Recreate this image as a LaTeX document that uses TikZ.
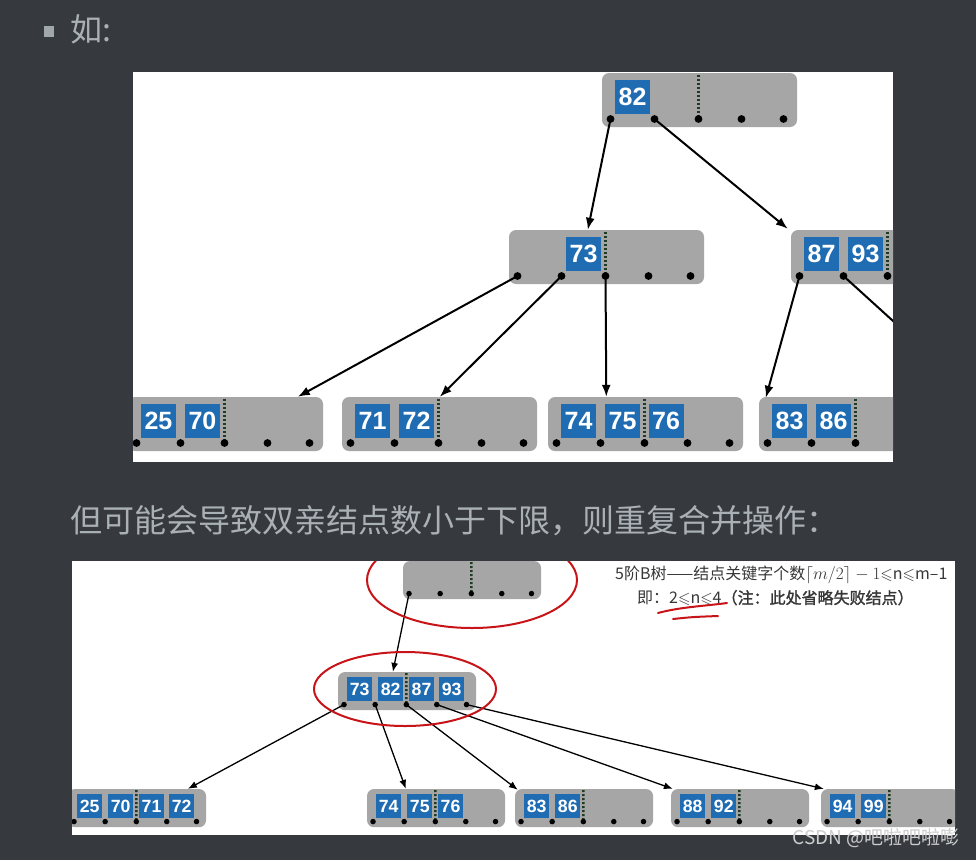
\documentclass[tikz,border=0pt]{standalone}
\usepackage{fontspec}
\usepackage{amssymb}
\setmainfont{Noto Sans CJK SC}[AutoFakeBold=1.6]
\newfontfamily\numfont{Liberation Sans}
\usetikzlibrary{arrows.meta,calc}
\definecolor{bg}{RGB}{54,57,62}
\definecolor{fg}{RGB}{170,177,182}
\definecolor{nodegray}{RGB}{166,166,166}
\definecolor{keyblue}{RGB}{31,108,178}
\definecolor{dotgreen}{RGB}{30,60,35}
\definecolor{pen}{RGB}{200,20,25}
\definecolor{txt}{RGB}{55,55,55}
\definecolor{wmc}{RGB}{205,205,205}
\tikzset{
  gbox/.style={fill=nodegray, rounded corners=7pt, minimum width=195pt, minimum height=54pt, inner sep=0pt},
  kbox/.style={fill=keyblue, text=white, minimum width=35pt, minimum height=34pt, inner sep=0pt,
               font=\numfont\bfseries\fontsize{25}{25}\selectfont},
  sepline/.style={draw=dotgreen, line width=2.4pt, dash pattern=on 2pt off 2pt},
  arrbig/.style={-{Latex[length=12pt,width=9pt]}, line width=2pt},
  arrsmall/.style={-{Latex[length=9pt,width=7pt]}, line width=1.3pt},
  redpen/.style={draw=pen, line width=2pt},
}
\newcommand{\BTnode}[5]{%
  \begin{scope}[shift={(#2,#3)},scale=#4,transform shape]
    \node[gbox] (#1) at (97.5,27) {};
    \coordinate (#1-d1) at (8.5,46);
    \coordinate (#1-d2) at (52.5,46);
    \coordinate (#1-d3) at (96.5,46);
    \coordinate (#1-d4) at (139.5,46);
    \coordinate (#1-d5) at (181.5,46);
    \draw[sepline] (96.5,1.5) -- (#1-d3);
    \def\keylist{#5}%
    \ifx\keylist\empty\else
      \foreach \sx/\kk in {#5} {\node[kbox] (#1-k\kk) at (\sx,24) {\kk};}
    \fi
    \foreach \i in {1,...,5} {\fill (#1-d\i) circle (3.9);}
  \end{scope}}
\begin{document}
\begin{tikzpicture}[x=1pt,y=-1pt]
\useasboundingbox (0,0) rectangle (976,860);
\fill[bg] (0,0) rectangle (976,860);

% heading texts
\fill[fg!95!black] (44,26) rectangle (54,37);
\node[anchor=west, inner sep=0pt, text=fg, font=\fontsize{32}{36}\selectfont] (h1) at (70,29) {如:};
\node[anchor=west, inner sep=0pt, text=fg, font=\fontsize{32}{36}\selectfont] (h2) at (70,521) {但可能会导致双亲结点数小于下限，则重复合并操作：};

% top panel
\fill[white] (133,72) rectangle (893,462);
\begin{scope}
  \clip (133,72) rectangle (893,462);
  \BTnode{R1}{602}{73}{1}{30.5/82}
  \BTnode{N73}{509}{230}{1}{74.5/73}
  \BTnode{N87}{791}{230}{1}{30.5/87,74.5/93}
  \BTnode{L1}{128}{397}{1}{30.5/25,74.5/70}
  \BTnode{L2}{342}{397}{1}{30.5/71,74.5/72}
  \BTnode{L3}{548}{397}{1}{30.5/74,74.5/75,118/76}
  \BTnode{L4}{759}{397}{1}{30.5/83,74.5/86}
  \coordinate (off87) at (925,350);
  \draw[arrbig] (R1-d1) -- ($(N73.north west)+(79,0)$);
  \draw[arrbig] (R1-d2) -- ($(N87.north west)+(-3,-1)$);
  \draw[arrbig] (N73-d1) -- ($(L1.north west)+(170,0)$);
  \draw[arrbig] (N73-d2) -- ($(L2.north west)+(98,0)$);
  \draw[arrbig] (N73-d3) -- ($(L3.north west)+(58.5,0)$);
  \draw[arrbig] (N87-d1) -- ($(L4.north west)+(7,1)$);
  \draw[line width=2pt] (N87-d2) -- (off87);
\end{scope}

% bottom panel
\fill[white] (72,561) rectangle (955,835);
\begin{scope}
  \clip (72,561) rectangle (955,835);
  \BTnode{T}{403}{561}{0.708}{}
  \BTnode{M}{338}{672}{0.708}{30.5/73,74.5/82,118/87,160.5/93}
  \BTnode{B1}{68}{789}{0.708}{30.5/25,74.5/70,118/71,160.5/72}
  \BTnode{B2}{367}{789}{0.708}{30.5/74,74.5/75,118/76}
  \BTnode{B3}{515}{789}{0.708}{30.5/83,74.5/86}
  \BTnode{B4}{671}{789}{0.708}{30.5/88,74.5/92}
  \BTnode{B5}{821}{789}{0.708}{30.5/94,74.5/99}
  \draw[arrsmall] (T-d1) -- ($(M.north west)+(55,0)$);
  \draw[arrsmall] (M-d1) -- ($(B1.north west)+(120,0)$);
  \draw[arrsmall] (M-d2) -- ($(B2.north west)+(39,0)$);
  \draw[arrsmall] (M-d3) -- ($(B3.north west)+(3,1)$);
  \draw[arrsmall] (M-d4) -- ($(B4.north west)+(2,0)$);
  \draw[arrsmall] (M-d5) -- ($(B5.north west)+(3,0)$);
  \draw[redpen] (472,580) ellipse [x radius=105, y radius=48];
  \draw[redpen] (405,689) ellipse [x radius=91, y radius=37];
  \node[anchor=west, inner sep=0pt, text=txt, font=\fontsize{16}{18}\selectfont] (f1) at (615,575)
    {5阶B树——结点关键字个数$\lceil m/2\rceil-1$$\leqslant$n$\leqslant$m–1};
  \node[anchor=west, inner sep=0pt, text=txt, font=\fontsize{16}{18}\selectfont] (f2) at (637,598)
    {即：2$\leqslant$n$\leqslant$4\textbf{（注：此处省略失败结点）}};
  \draw[redpen, line cap=round] (658,613) .. controls (680,607) and (705,606) .. (727,603);
  \draw[redpen, line cap=round] (673,619) .. controls (692,617) .. (718,616);
\end{scope}

\node[anchor=east, inner sep=0pt, text=wmc, font=\fontsize{19}{20}\selectfont] (wm) at (960,838) {CSDN @吧啦吧啦嘭};
\end{tikzpicture}
\end{document}
